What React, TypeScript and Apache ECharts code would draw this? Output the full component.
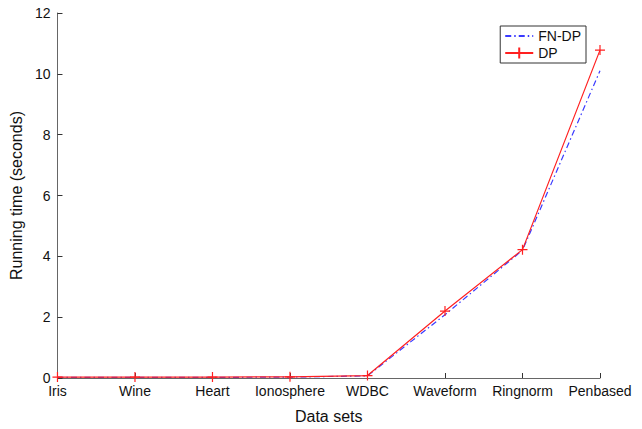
import React, { useEffect, useRef } from "react";
import * as echarts from "echarts";

const categories = ["Iris", "Wine", "Heart", "Ionosphere", "WDBC", "Waveform", "Ringnorm", "Penbased"];
const fnDp = [0.02, 0.02, 0.02, 0.03, 0.07, 2.08, 4.2, 10.1];
const dp = [0.03, 0.03, 0.03, 0.04, 0.08, 2.2, 4.22, 10.78];
const yTicks = [0, 2, 4, 6, 8, 10, 12];

const FONT = "'Liberation Sans', Arial, Helvetica, sans-serif";
const PLUS = "path://M0,5L10,5M5,0L5,10";

export default function App() {
  const ref = useRef<HTMLDivElement>(null);
  useEffect(() => {
    if (!ref.current) return;
    const chart = echarts.init(ref.current, undefined, { renderer: "svg" });
    chart.setOption({
      animation: false,
      backgroundColor: "#ffffff",
      textStyle: { fontFamily: FONT },
      grid: { left: 55, right: 42, top: 13, bottom: 50, containLabel: false },
      legend: {
        orient: "vertical",
        right: 56,
        top: 26,
        backgroundColor: "#ffffff",
        borderColor: "#333333",
        borderWidth: 1,
        borderRadius: 0,
        padding: [3, 5, 3, 4],
        itemGap: 3,
        itemWidth: 28,
        itemHeight: 14,
        textStyle: { fontFamily: FONT, fontSize: 14, color: "#111111" },
        data: ["FN-DP", "DP"],
      },
      xAxis: {
        type: "category",
        data: categories,
        boundaryGap: false,
        name: "Data sets",
        nameLocation: "middle",
        nameGap: 30,
        nameTextStyle: { fontFamily: FONT, fontSize: 16, color: "#111111" },
        axisLine: { lineStyle: { color: "#666666", width: 1 } },
        axisTick: { inside: true, length: 5, lineStyle: { color: "#333333" } },
        axisLabel: { fontFamily: FONT, fontSize: 14, color: "#111111", margin: 6, interval: 0 },
        splitLine: { show: false },
      },
      yAxis: {
        type: "value",
        min: yTicks[0],
        max: yTicks[yTicks.length - 1],
        interval: 2,
        name: "Running time (seconds)",
        nameLocation: "middle",
        nameGap: 29,
        nameTextStyle: { fontFamily: FONT, fontSize: 16, color: "#111111" },
        axisLine: { show: true, lineStyle: { color: "#666666", width: 1 } },
        axisTick: { show: true, inside: true, length: 5, lineStyle: { color: "#333333" } },
        axisLabel: { fontFamily: FONT, fontSize: 14, color: "#111111", margin: 7 },
        splitLine: { show: false },
      },
      series: [
        {
          name: "FN-DP",
          type: "line",
          data: fnDp,
          symbol: "circle",
          showSymbol: false,
          z: 2,
          color: "#3a3aff",
          itemStyle: { color: "rgba(0,0,0,0)", borderWidth: 0 },
          lineStyle: { color: "#3a3aff", width: 1.2, type: [6, 3, 1.5, 3] },
        },
        {
          name: "DP",
          type: "line",
          data: dp,
          symbol: PLUS,
          symbolSize: 10,
          z: 3,
          color: "#ff2020",
          itemStyle: { color: "#ff2020", borderColor: "#ff2020", borderWidth: 1.2 },
          lineStyle: { color: "#ff2020", width: 1.2 },
        },
      ],
    });
    return () => chart.dispose();
  }, []);
  return <div ref={ref} style={{ width: 642, height: 429, position: "absolute", left: 0, top: 0 }} />;
}
